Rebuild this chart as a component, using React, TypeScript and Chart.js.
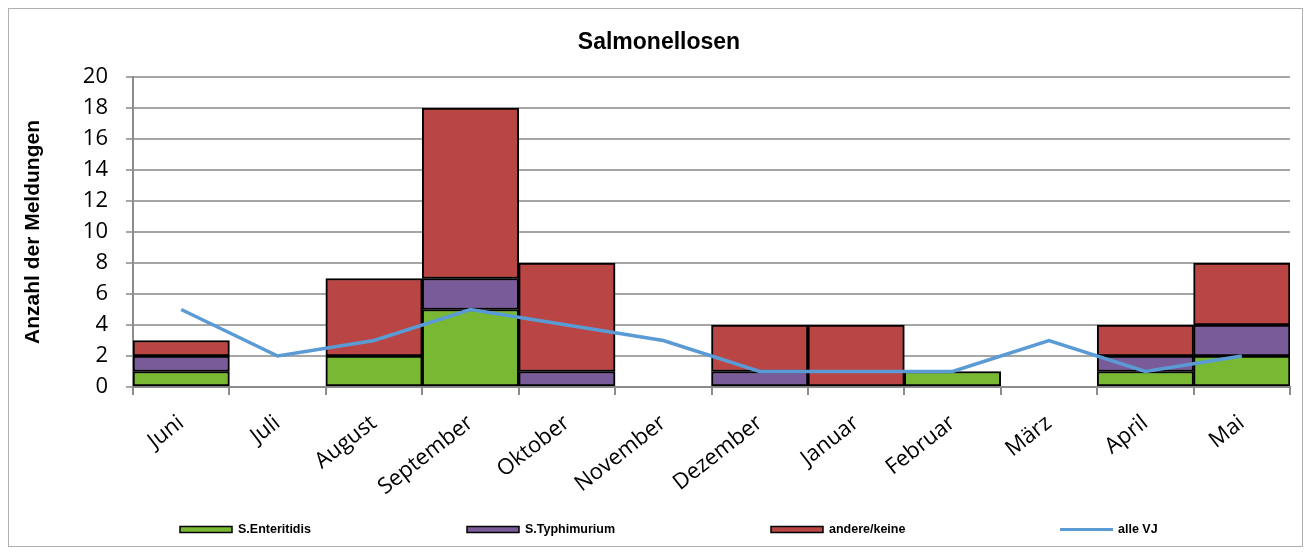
import React, { useEffect, useRef } from 'react';
import { Chart, registerables } from 'chart.js';

Chart.register(...registerables);

const categories = ['Juni', 'Juli', 'August', 'September', 'Oktober', 'November', 'Dezember', 'Januar', 'Februar', 'März', 'April', 'Mai'];
const enteritidis = [1, 0, 2, 5, 0, 0, 0, 0, 1, 0, 1, 2];
const typhimurium = [1, 0, 0, 2, 1, 0, 1, 0, 0, 0, 1, 2];
const andere = [1, 0, 5, 11, 7, 0, 3, 4, 0, 0, 2, 4];
const alleVJ = [5, 2, 3, 5, 4, 3, 1, 1, 1, 3, 1, 2];
const seriesLabels = ['S.Enteritidis', 'S.Typhimurium', 'andere/keine', 'alle VJ'];
const yMin = 0;
const yMax = 20;
const yStep = 2;
const chartTitle = 'Salmonellosen';
const yTitle = 'Anzahl der Meldungen';

const GREEN = '#78b833';
const PURPLE = '#7a5b99';
const RED = '#b94645';
const BLUE = '#5b9bd5';

const nz = (arr: number[]) => arr.map((v) => (v === 0 ? null : v));

const decorPlugin = {
  id: 'decor',
  afterDraw(chart: any) {
    const ctx = chart.ctx;
    ctx.save();
    // Title
    ctx.fillStyle = '#000';
    ctx.font = 'bold 23px "Liberation Sans", Arial, sans-serif';
    ctx.textAlign = 'center';
    ctx.textBaseline = 'middle';
    ctx.fillText(chartTitle, 650, 34);
    // Y title
    ctx.save();
    ctx.translate(24, (chart.chartArea.top + chart.chartArea.bottom) / 2);
    ctx.rotate(-Math.PI / 2);
    ctx.font = 'bold 21px "Liberation Sans", Arial, sans-serif';
    ctx.fillText(yTitle, 0, 0);
    ctx.restore();
    // Legend
    const xs = [171, 458, 762, 1051];
    const colors = [GREEN, PURPLE, RED, BLUE];
    const ly = 520.5;
    ctx.font = 'bold 12.5px "Liberation Sans", Arial, sans-serif';
    ctx.textAlign = 'left';
    ctx.textBaseline = 'middle';
    for (let i = 0; i < 4; i++) {
      const x = xs[i];
      if (i < 3) {
        ctx.fillStyle = colors[i];
        ctx.fillRect(x, ly - 3, 52, 6);
        ctx.strokeStyle = '#000';
        ctx.lineWidth = 1.5;
        ctx.strokeRect(x, ly - 3, 52, 6);
      } else {
        ctx.strokeStyle = BLUE;
        ctx.lineWidth = 3;
        ctx.beginPath();
        ctx.moveTo(x, ly);
        ctx.lineTo(x + 53, ly);
        ctx.stroke();
      }
      ctx.fillStyle = '#000';
      ctx.fillText(seriesLabels[i], x + 58, ly);
    }
    ctx.restore();
  },
};

export default function App() {
  const ref = useRef<HTMLCanvasElement | null>(null);
  useEffect(() => {
    if (!ref.current) return;
    const barCommon = {
      type: 'bar' as const,
      borderColor: '#000',
      borderWidth: 2,
      borderSkipped: false,
      barPercentage: 1,
      categoryPercentage: 1,
      stack: 'bars',
      order: 1,
    };
    const chart = new Chart(ref.current, {
      type: 'bar',
      data: {
        labels: categories,
        datasets: [
          { ...barCommon, label: seriesLabels[0], data: nz(enteritidis), backgroundColor: GREEN },
          { ...barCommon, label: seriesLabels[1], data: nz(typhimurium), backgroundColor: PURPLE },
          { ...barCommon, label: seriesLabels[2], data: nz(andere), backgroundColor: RED },
          {
            type: 'line',
            label: seriesLabels[3],
            data: alleVJ,
            borderColor: BLUE,
            backgroundColor: BLUE,
            borderWidth: 3.5,
            pointRadius: 0,
            tension: 0,
            stack: 'line',
            order: 0,
          } as any,
        ],
      } as any,
      options: {
        animation: false,
        responsive: true,
        maintainAspectRatio: false,
        layout: { padding: { left: 0, right: 12, top: 68, bottom: 39 } },
        plugins: {
          legend: { display: false },
          title: { display: false },
          tooltip: { enabled: false },
        },
        scales: {
          x: {
            stacked: true,
            offset: true,
            grid: {
              display: true,
              drawOnChartArea: false,
              drawTicks: true,
              tickLength: 8,
              color: '#8c8c8c',
              lineWidth: 2,
              offset: true,
            },
            border: { display: true, color: '#8c8c8c', width: 2 },
            ticks: {
              autoSkip: false,
              maxRotation: 38,
              minRotation: 38,
              padding: 15,
              color: '#000',
              font: { family: '"Open Sans", sans-serif', size: 22 },
            },
            afterFit: (scale: any) => {
              scale.height = 120;
            },
          },
          y: {
            stacked: true,
            min: yMin,
            max: yMax,
            grid: {
              color: '#a6a6a6',
              lineWidth: 2,
              tickLength: 7,
              drawTicks: true,
            },
            border: { display: true, color: '#8c8c8c', width: 2 },
            ticks: {
              stepSize: yStep,
              padding: 18,
              color: '#000',
              font: { family: '"Open Sans", sans-serif', size: 22 },
            },
            afterFit: (scale: any) => {
              scale.width = 124;
            },
          },
        },
      } as any,
      plugins: [decorPlugin],
    });
    return () => chart.destroy();
  }, []);

  return (
    <div
      style={{
        width: 1295,
        height: 539,
        border: '1px solid #b0b0b0',
        boxSizing: 'border-box',
        position: 'relative',
        background: '#fff',
      }}
    >
      <canvas ref={ref} />
    </div>
  );
}
